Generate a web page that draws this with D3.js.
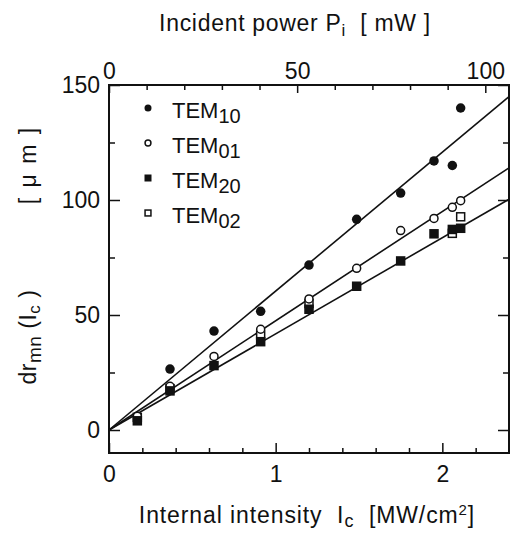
<!DOCTYPE html>
<html>
<head>
<meta charset="utf-8">
<script src="https://cdn.jsdelivr.net/npm/d3@7"></script>
<style>
  body { margin: 0; background: #fff; }
  text { font-family: "Liberation Sans", Arial, sans-serif; fill: #111; }
</style>
</head>
<body>
<div id="chart"></div>
<script>
// data: internal intensity Ic [MW/cm2] vs dr_mn [um]
const tem10X = [0.366, 0.63, 0.91, 1.2, 1.486, 1.75, 1.95, 2.06, 2.11];
const tem10Y = [26.5, 43, 51.6, 71.7, 91.6, 103, 117, 115, 140];
const tem01X = [0.17, 0.366, 0.63, 0.91, 1.2, 1.486, 1.75, 1.95, 2.06, 2.11];
const tem01Y = [6, 19, 32, 43.8, 57, 70.3, 86.7, 92, 96.8, 99.7];
const tem20X = [0.17, 0.366, 0.63, 0.91, 1.2, 1.486, 1.75, 1.95, 2.06, 2.11];
const tem20Y = [4, 17, 28, 38.4, 52.5, 62.5, 73.5, 85.3, 87.2, 87.7];
const tem02X = [0.17, 0.366, 0.91, 1.2, 2.06, 2.11];
const tem02Y = [5.5, 18, 41.3, 55, 85.5, 92.7];

// fitted straight lines through the origin (slope in um per MW/cm2)
const fitNames = ["TEM10", "TEM01", "TEM20"];
const fitSlopes = [60.4, 47.5, 41.8];

const bottomLabels = [0, 1, 2];
const bottomMinor = [0.2, 0.4, 0.6, 0.8, 1.2, 1.4, 1.6, 1.8, 2.2];
const topLabels = [0, 50, 100];
const topMinor = [10, 20, 30, 40, 60, 70, 80, 90];
const leftLabels = [0, 50, 100, 150];
const leftMinor = [25, 75, 125];

const legendNames = ["10", "01", "20", "02"];
const legendMarks = ["dot", "circle", "square", "box"];

const W = 516, H = 534;
const svg = d3.select("#chart").append("svg")
  .attr("width", W).attr("height", H);

const x = d3.scaleLinear().domain([0, 2.4]).range([109, 509]);
const xTop = d3.scaleLinear().domain([0, 106.3]).range([109, 509]);
const y = d3.scaleLinear().domain([-10, 150]).range([453, 85]);

function zip(xs, ys) { return xs.map((v, i) => ({ x: v, y: ys[i] })); }

// axes (ticks point inward)
function styleAxis(g) {
  g.select(".domain").remove();
  g.selectAll(".tick line").attr("stroke", "#111").attr("stroke-width", 1.5);
  g.selectAll("text").attr("font-size", 23).style("font-family", null);
}

svg.append("g").attr("transform", "translate(0,453)")
  .call(d3.axisBottom(x).tickValues(bottomMinor).tickSizeInner(-5).tickSizeOuter(0).tickFormat(""))
  .call(styleAxis);
svg.append("g").attr("transform", "translate(0,453)")
  .call(d3.axisBottom(x).tickValues(bottomLabels).tickSizeInner(-10).tickSizeOuter(0).tickPadding(13).tickFormat(d3.format("d")))
  .call(styleAxis);

svg.append("g").attr("transform", "translate(0,85)")
  .call(d3.axisTop(xTop).tickValues(topMinor).tickSizeInner(-5).tickSizeOuter(0).tickFormat(""))
  .call(styleAxis);
svg.append("g").attr("transform", "translate(0,85)")
  .call(d3.axisTop(xTop).tickValues(topLabels).tickSizeInner(-8).tickSizeOuter(0).tickPadding(6).tickFormat(d3.format("d")))
  .call(styleAxis);

svg.append("g").attr("transform", "translate(109,0)")
  .call(d3.axisLeft(y).tickValues(leftMinor).tickSizeInner(-6).tickSizeOuter(0).tickFormat(""))
  .call(styleAxis);
svg.append("g").attr("transform", "translate(109,0)")
  .call(d3.axisLeft(y).tickValues(leftLabels).tickSizeInner(-11).tickSizeOuter(0).tickPadding(9).tickFormat(d3.format("d")))
  .call(styleAxis);

svg.append("g").attr("transform", "translate(509,0)")
  .call(d3.axisRight(y).tickValues(leftMinor).tickSizeInner(-6).tickSizeOuter(0).tickFormat(""))
  .call(styleAxis);
svg.append("g").attr("transform", "translate(509,0)")
  .call(d3.axisRight(y).tickValues(leftLabels).tickSizeInner(-11).tickSizeOuter(0).tickFormat(""))
  .call(styleAxis);

// frame
svg.append("rect")
  .attr("x", x(0)).attr("y", y(150))
  .attr("width", x(2.4) - x(0)).attr("height", y(-10) - y(150))
  .attr("fill", "none").attr("stroke", "#111").attr("stroke-width", 2);

// fitted lines
const line = d3.line().x(d => x(d[0])).y(d => y(d[1]));
svg.append("g").selectAll("path")
  .data(fitSlopes)
  .join("path")
  .attr("d", s => line([[0, 0], [2.4, s * 2.4]]))
  .attr("fill", "none").attr("stroke", "#111").attr("stroke-width", 1.6);

// markers
function drawMark(g, kind, cx, cy, size) {
  if (kind === "dot") {
    g.append("circle").attr("cx", cx).attr("cy", cy).attr("r", size * 0.5).attr("fill", "#111");
  } else if (kind === "circle") {
    g.append("circle").attr("cx", cx).attr("cy", cy).attr("r", size * 0.42)
      .attr("fill", "#fff").attr("stroke", "#111").attr("stroke-width", 1.5);
  } else if (kind === "square") {
    g.append("rect").attr("x", cx - size / 2).attr("y", cy - size / 2)
      .attr("width", size).attr("height", size).attr("fill", "#111");
  } else {
    g.append("rect").attr("x", cx - size * 0.42).attr("y", cy - size * 0.42)
      .attr("width", size * 0.84).attr("height", size * 0.84)
      .attr("fill", "#fff").attr("stroke", "#111").attr("stroke-width", 1.5);
  }
}

const pts = svg.append("g");
const seriesData = [
  ["box", zip(tem02X, tem02Y)],
  ["circle", zip(tem01X, tem01Y)],
  ["square", zip(tem20X, tem20Y)],
  ["dot", zip(tem10X, tem10Y)]
];
seriesData.forEach(([kind, data]) => {
  data.forEach(d => drawMark(pts, kind, x(d.x), y(d.y), 9.5));
});

// legend
const leg = svg.append("g");
legendNames.forEach((n, i) => {
  const ly = 108 + i * 35;
  drawMark(leg, legendMarks[i], 148, ly, 7);
  const t = leg.append("text").attr("x", 172).attr("y", ly + 10).attr("font-size", 22);
  t.append("tspan").text("TEM");
  t.append("tspan").attr("dy", 5).attr("font-size", 20).text(n);
});

// axis titles
const topTitle = svg.append("text").attr("x", 295).attr("y", 31)
  .attr("text-anchor", "middle").attr("font-size", 23).attr("letter-spacing", 0.7);
topTitle.append("tspan").text("Incident power P");
topTitle.append("tspan").attr("dy", 5).attr("font-size", 17).text("i");
topTitle.append("tspan").attr("dy", -5).text("\u00a0 [ mW ]");

const botTitle = svg.append("text").attr("x", 307).attr("y", 523)
  .attr("text-anchor", "middle").attr("font-size", 23).attr("letter-spacing", 0.9);
botTitle.append("tspan").text("Internal intensity\u00a0 I");
botTitle.append("tspan").attr("dy", 4).attr("font-size", 18).text("c");
botTitle.append("tspan").attr("dy", -4).text("\u00a0 [MW/cm");
botTitle.append("tspan").attr("dy", -8).attr("font-size", 15).text("2");
botTitle.append("tspan").attr("dy", 8).text("]");

const yTitle = svg.append("text").attr("transform", "translate(36,337) rotate(-90)")
  .attr("text-anchor", "middle").attr("font-size", 23).attr("letter-spacing", 0.5);
yTitle.append("tspan").text("dr");
yTitle.append("tspan").attr("dy", 5).attr("font-size", 19).text("mn");
yTitle.append("tspan").attr("dy", -5).text(" (I");
yTitle.append("tspan").attr("dy", 4).attr("font-size", 17).text("c");
yTitle.append("tspan").attr("dy", -4).text(" )");

svg.append("text").attr("transform", "translate(36,165) rotate(-90)")
  .attr("text-anchor", "middle").attr("font-size", 23).attr("letter-spacing", 2)
  .text("[ \u03bc m ]");
</script>
</body>
</html>
